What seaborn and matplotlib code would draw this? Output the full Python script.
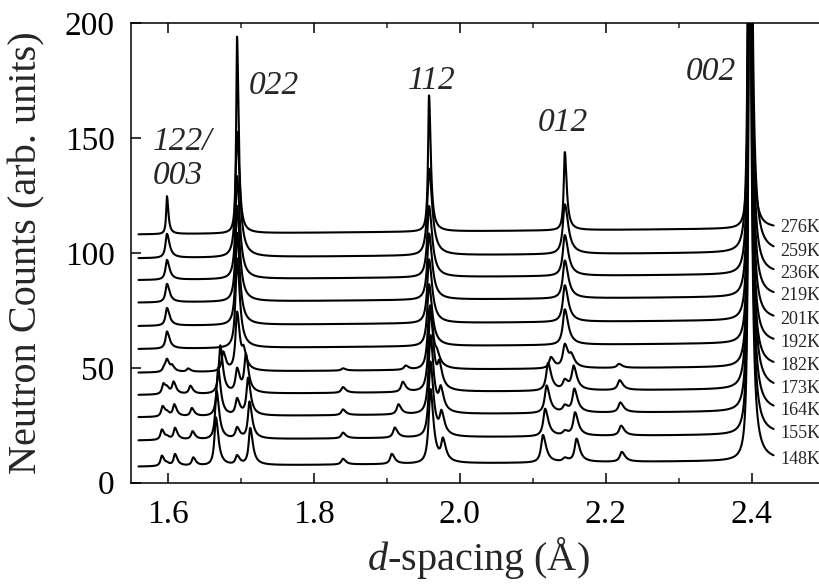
import numpy as np
import pandas as pd
import matplotlib
matplotlib.use("Agg")
import matplotlib.pyplot as plt
import seaborn as sns
from matplotlib.ticker import MultipleLocator, FormatStrFormatter

# ---------------- data ----------------
temps = ['148K', '155K', '164K', '173K', '182K', '192K', '201K', '219K', '236K', '259K', '276K']
offsets = [7.0, 18.4, 28.5, 38.2, 47.9, 58.2, 68.2, 78.4, 88.2, 97.7, 108.1]
bg_slope = 3.0  # background rise, counts per Angstrom

# high-temperature phase reflections
hkl_labels = ['122/\n003', '022', '112', '012', '002']
hkl_label_x = [1.579, 1.711, 1.929, 2.107, 2.309]
hkl_label_y = [141.0, 173.0, 175.0, 156.5, 179.0]
tet_pos = [1.599, 1.695, 1.958, 2.144, 2.397]
tet_int = [7.5, 39.0, 27.0, 15.5, 300.0]
tet_hwhm = [0.0032, 0.0034, 0.0039, 0.0043, 0.0020]
tet_scale = [0.10, 0.12, 0.18, 0.26, 0.65, 1.0, 1.03, 1.07, 1.15, 1.40, 2.20]
tet_sharp = [1, 1, 1, 1, 1, 1, 1, 1, 1, 1, 0.55]

# low-temperature phase reflections (148K .. 182K)
lt_frac = [1.0, 1.0, 1.0, 1.0, 0.4, 0, 0, 0, 0, 0, 0]
lt_a = [1.592, 1.592, 1.593, 1.594, 1.595]
lt_b = [1.610, 1.610, 1.609, 1.608, 1.606]
lt_c = [1.635, 1.634, 1.633, 1.631, 1.628]
lt_022l = [1.666, 1.667, 1.669, 1.672, 1.676]
lt_022r = [1.713, 1.712, 1.710, 1.707, 1.704]
lt_184 = [1.840, 1.840, 1.840, 1.840, 1.840]
lt_112l = [1.907, 1.911, 1.916, 1.922, 1.926]
lt_112c = [1.960, 1.960, 1.960, 1.960, 1.960]
lt_112r = [1.977, 1.975, 1.974, 1.972, 1.969]
lt_012l = [2.114, 2.117, 2.119, 2.121, 2.125]
lt_012r = [2.160, 2.158, 2.157, 2.156, 2.153]
lt_222 = [2.222, 2.221, 2.220, 2.219, 2.218]
lt_002 = [2.397, 2.397, 2.397, 2.397, 2.397]
lt_positions = [lt_a, lt_b, lt_c, lt_022l, lt_022r, lt_184, lt_112l,
                lt_112c, lt_112r, lt_012l, lt_012r, lt_222, lt_002]
lt_int = [4.5, 5.0, 3.5, 21.0, 16.0, 2.5, 4.4, 30.0, 9.0, 12.0, 10.0, 4.3, 240.0]
lt_hwhm = [0.0030, 0.0030, 0.0031, 0.0032, 0.0033, 0.0035, 0.0036,
           0.0037, 0.0037, 0.0040, 0.0040, 0.0041, 0.0024]

d_min, d_max = 1.56, 2.43


def peak(x, x0, amp, g):
    gl, gr = 0.75 * g, 1.3 * g
    gg = np.where(x < x0, gl, gr)
    return amp / (1.0 + ((x - x0) / gg) ** 2)


d = np.linspace(d_min, d_max, 4000)
frames = []
for i, t in enumerate(temps):
    y = offsets[i] + bg_slope * (d - d_min)
    for p, a, g in zip(tet_pos, tet_int, tet_hwhm):
        y = y + peak(d, p, a * tet_scale[i], g * tet_sharp[i])
    if lt_frac[i] > 0:
        for pos, a, g in zip(lt_positions, lt_int, lt_hwhm):
            y = y + peak(d, pos[i], a * lt_frac[i], g)
    frames.append(pd.DataFrame({'d': d, 'counts': y, 'T': t}))
df = pd.concat(frames, ignore_index=True)

# ---------------- drawing ----------------
sns.set_theme(style='ticks')
plt.rcParams['font.family'] = ['Liberation Serif', 'DejaVu Serif']
plt.rcParams['mathtext.fontset'] = 'custom'
plt.rcParams['mathtext.rm'] = 'Liberation Serif'
plt.rcParams['mathtext.it'] = 'Liberation Serif:italic'

fig = plt.figure(figsize=(8.2, 5.85), dpi=100)
ax = fig.add_axes([0.160, 0.1749, 0.8457, 0.7853])

sns.lineplot(data=df, x='d', y='counts', hue='T', hue_order=temps,
             palette=['black'] * len(temps), estimator=None, sort=False,
             legend=False, linewidth=1.5, ax=ax)

ax.set_xlim(1.55, 2.5)
ax.set_ylim(0, 200)
ax.xaxis.set_major_locator(MultipleLocator(0.2))
ax.xaxis.set_minor_locator(MultipleLocator(0.1))
ax.yaxis.set_major_locator(MultipleLocator(50))
ax.xaxis.set_major_formatter(FormatStrFormatter('%.1f'))

ax.tick_params(axis='both', which='major', direction='in', length=7.5, width=1.1,
               labelsize=24, pad=12, top=True, right=False, colors='black')
ax.tick_params(axis='x', which='minor', direction='in', length=3.6, width=1.1,
               top=True)
for s in ax.spines.values():
    s.set_linewidth(1.1)
    s.set_color('black')

ax.set_xlabel(r'$d$-spacing (Å)', fontsize=29, labelpad=4)
ax.set_ylabel('Neutron Counts (arb. units)', fontsize=29, labelpad=14)

for lab, lx, ly in zip(hkl_labels, hkl_label_x, hkl_label_y):
    ax.text(lx, ly, lab, fontsize=24, style='italic', ha='left', va='center',
            linespacing=1.15)

for i, t in enumerate(temps):
    ax.text(2.439, offsets[i] + 3.0, t, fontsize=13, ha='left', va='center')

fig.savefig('out.png', dpi=100)
